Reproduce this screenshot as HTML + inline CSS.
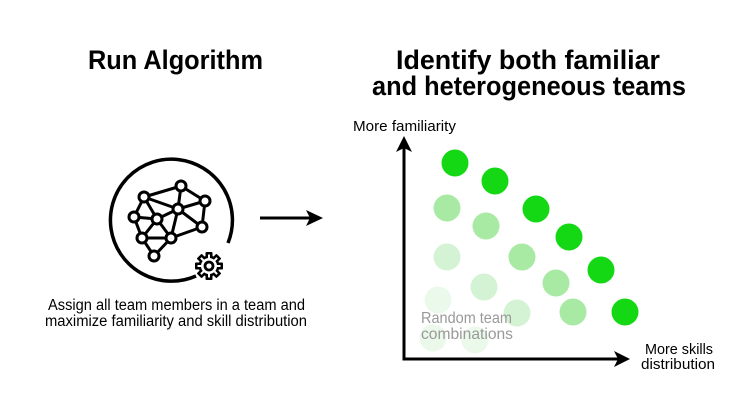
<!DOCTYPE html>
<html><head><meta charset="utf-8"><style>
html,body{margin:0;padding:0;background:#fff;}
svg{display:block}
text{font-family:"Liberation Sans",sans-serif;}
</style></head><body>
<svg width="740" height="416" viewBox="0 0 740 416" xmlns="http://www.w3.org/2000/svg">
<!-- Titles -->
<text x="88" y="69" font-size="27" font-weight="bold" textLength="175" lengthAdjust="spacingAndGlyphs" fill="#000">Run Algorithm</text>
<text x="396" y="69" font-size="27" font-weight="bold" textLength="264" lengthAdjust="spacingAndGlyphs" fill="#000">Identify both familiar</text>
<text x="372" y="95" font-size="27" font-weight="bold" textLength="314" lengthAdjust="spacingAndGlyphs" fill="#000">and heterogeneous teams</text>

<!-- Icon circle -->
<path d="M196,276 A61,61 0 1 1 228,243" fill="none" stroke="#000" stroke-width="3.5"/>
<!-- network -->
<g stroke="#000" stroke-width="3" fill="none" stroke-linejoin="round">
<line x1="144" y1="197" x2="181" y2="186"/>
<line x1="144" y1="197" x2="178" y2="209"/>
<line x1="181" y1="186" x2="178" y2="209"/>
<line x1="181" y1="186" x2="205" y2="201"/>
<line x1="205" y1="201" x2="178" y2="209"/>
<line x1="205" y1="201" x2="202" y2="227"/>
<line x1="178" y1="209" x2="202" y2="227"/>
<line x1="178" y1="209" x2="157" y2="219"/>
<line x1="178" y1="209" x2="171" y2="238"/>
<line x1="144" y1="197" x2="134" y2="217"/>
<line x1="144" y1="197" x2="157" y2="219"/>
<line x1="134" y1="217" x2="142" y2="238"/>
<line x1="134" y1="217" x2="157" y2="219"/>
<line x1="157" y1="219" x2="142" y2="238"/>
<line x1="157" y1="219" x2="171" y2="238"/>
<line x1="142" y1="238" x2="171" y2="238"/>
<line x1="142" y1="238" x2="154" y2="256"/>
<line x1="171" y1="238" x2="154" y2="256"/>
<line x1="171" y1="238" x2="202" y2="227"/>
</g>
<g stroke="#000" stroke-width="3" fill="#fff">
<circle cx="144" cy="197" r="5"/><circle cx="181" cy="186" r="5"/><circle cx="205" cy="201" r="5"/>
<circle cx="178" cy="209" r="5"/><circle cx="157" cy="219" r="5"/><circle cx="134" cy="217" r="5"/>
<circle cx="142" cy="238" r="5"/><circle cx="171" cy="238" r="5"/><circle cx="202" cy="227" r="5"/>
<circle cx="154" cy="256" r="5"/>
</g>
<!-- gear outline -->
<g transform="translate(209,266)">
<path d="M-3,-14 L3,-14 L4,-9.5 L7.5,-8 L11.5,-10.5 L10.5,-11.5 L14,-3 L14,3 L9.5,4 L8,7.5 L10.5,11.5 L11.5,10.5 L3,14 L-3,14 L-4,9.5 L-7.5,8 L-11.5,10.5 L-10.5,11.5 L-14,3 L-14,-3 L-9.5,-4 L-8,-7.5 L-10.5,-11.5 L-11.5,-10.5 Z" fill="none" stroke="none"/>
<g fill="#000">
<rect x="-3.5" y="-14" width="7" height="6" rx="1"/><rect x="-3.5" y="8" width="7" height="6" rx="1"/>
<rect x="-14" y="-3.5" width="6" height="7" rx="1"/><rect x="8" y="-3.5" width="6" height="7" rx="1"/>
<g transform="rotate(45)">
<rect x="-3.5" y="-14" width="7" height="6" rx="1"/><rect x="-3.5" y="8" width="7" height="6" rx="1"/>
<rect x="-14" y="-3.5" width="6" height="7" rx="1"/><rect x="8" y="-3.5" width="6" height="7" rx="1"/>
</g>
<circle r="10.5"/>
</g>
<g fill="#fff">
<rect x="-1" y="-11.5" width="2" height="4"/><rect x="-1" y="7.5" width="2" height="4"/>
<rect x="-11.5" y="-1" width="4" height="2"/><rect x="7.5" y="-1" width="4" height="2"/>
<g transform="rotate(45)">
<rect x="-1" y="-11.5" width="2" height="4"/><rect x="-1" y="7.5" width="2" height="4"/>
<rect x="-11.5" y="-1" width="4" height="2"/><rect x="7.5" y="-1" width="4" height="2"/>
</g>
<circle r="8"/>
</g>
<circle r="4" fill="none" stroke="#000" stroke-width="2.8"/>
</g>

<text x="48" y="310" font-size="15.5" textLength="257" lengthAdjust="spacingAndGlyphs" fill="#000">Assign all team members in a team and</text>
<text x="45" y="326" font-size="15.5" textLength="262" lengthAdjust="spacingAndGlyphs" fill="#000">maximize familiarity and skill distribution</text>

<!-- middle arrow -->
<line x1="260" y1="218" x2="312" y2="218" stroke="#000" stroke-width="3"/>
<polygon points="323,218 306,210 310,218 306,226" fill="#000"/>

<!-- dots -->
<g fill="#ebf9eb">
<circle cx="438" cy="300" r="13.5"/><circle cx="433" cy="338" r="13.5"/><circle cx="475" cy="340" r="13.5"/>
</g>
<g fill="#d4f3d4">
<circle cx="447" cy="257" r="13.5"/><circle cx="484" cy="287" r="13.5"/><circle cx="517" cy="313" r="13.5"/>
</g>
<g fill="#a8eaa4">
<circle cx="447" cy="208" r="13.5"/><circle cx="486" cy="226" r="13.5"/><circle cx="522" cy="257" r="13.5"/>
<circle cx="556" cy="283" r="13.5"/><circle cx="573" cy="312" r="13.5"/>
</g>
<g fill="#14d814">
<circle cx="455" cy="163" r="13.5"/><circle cx="495" cy="181" r="13.5"/><circle cx="536" cy="209" r="13.5"/>
<circle cx="569" cy="237" r="13.5"/><circle cx="601" cy="270" r="13.5"/><circle cx="625" cy="312" r="13.5"/>
</g>
<text x="421" y="323" font-size="16" fill="#999" textLength="91" lengthAdjust="spacingAndGlyphs">Random team</text>
<text x="421" y="339" font-size="16" fill="#999" textLength="92" lengthAdjust="spacingAndGlyphs">combinations</text>

<!-- axes -->
<line x1="404" y1="146" x2="404" y2="359" stroke="#000" stroke-width="3"/>
<polygon points="404,136 396,152 404,148 412,152" fill="#000"/>
<line x1="402.5" y1="359" x2="620" y2="359" stroke="#000" stroke-width="3"/>
<polygon points="630,359 614,351 618,359 614,367" fill="#000"/>

<text x="353" y="131" font-size="15" textLength="103" lengthAdjust="spacingAndGlyphs" fill="#000">More familiarity</text>
<text x="645" y="354" font-size="15" textLength="68" lengthAdjust="spacingAndGlyphs" fill="#000">More skills</text>
<text x="641" y="369" font-size="15" textLength="74" lengthAdjust="spacingAndGlyphs" fill="#000">distribution</text>
</svg>
</body></html>
